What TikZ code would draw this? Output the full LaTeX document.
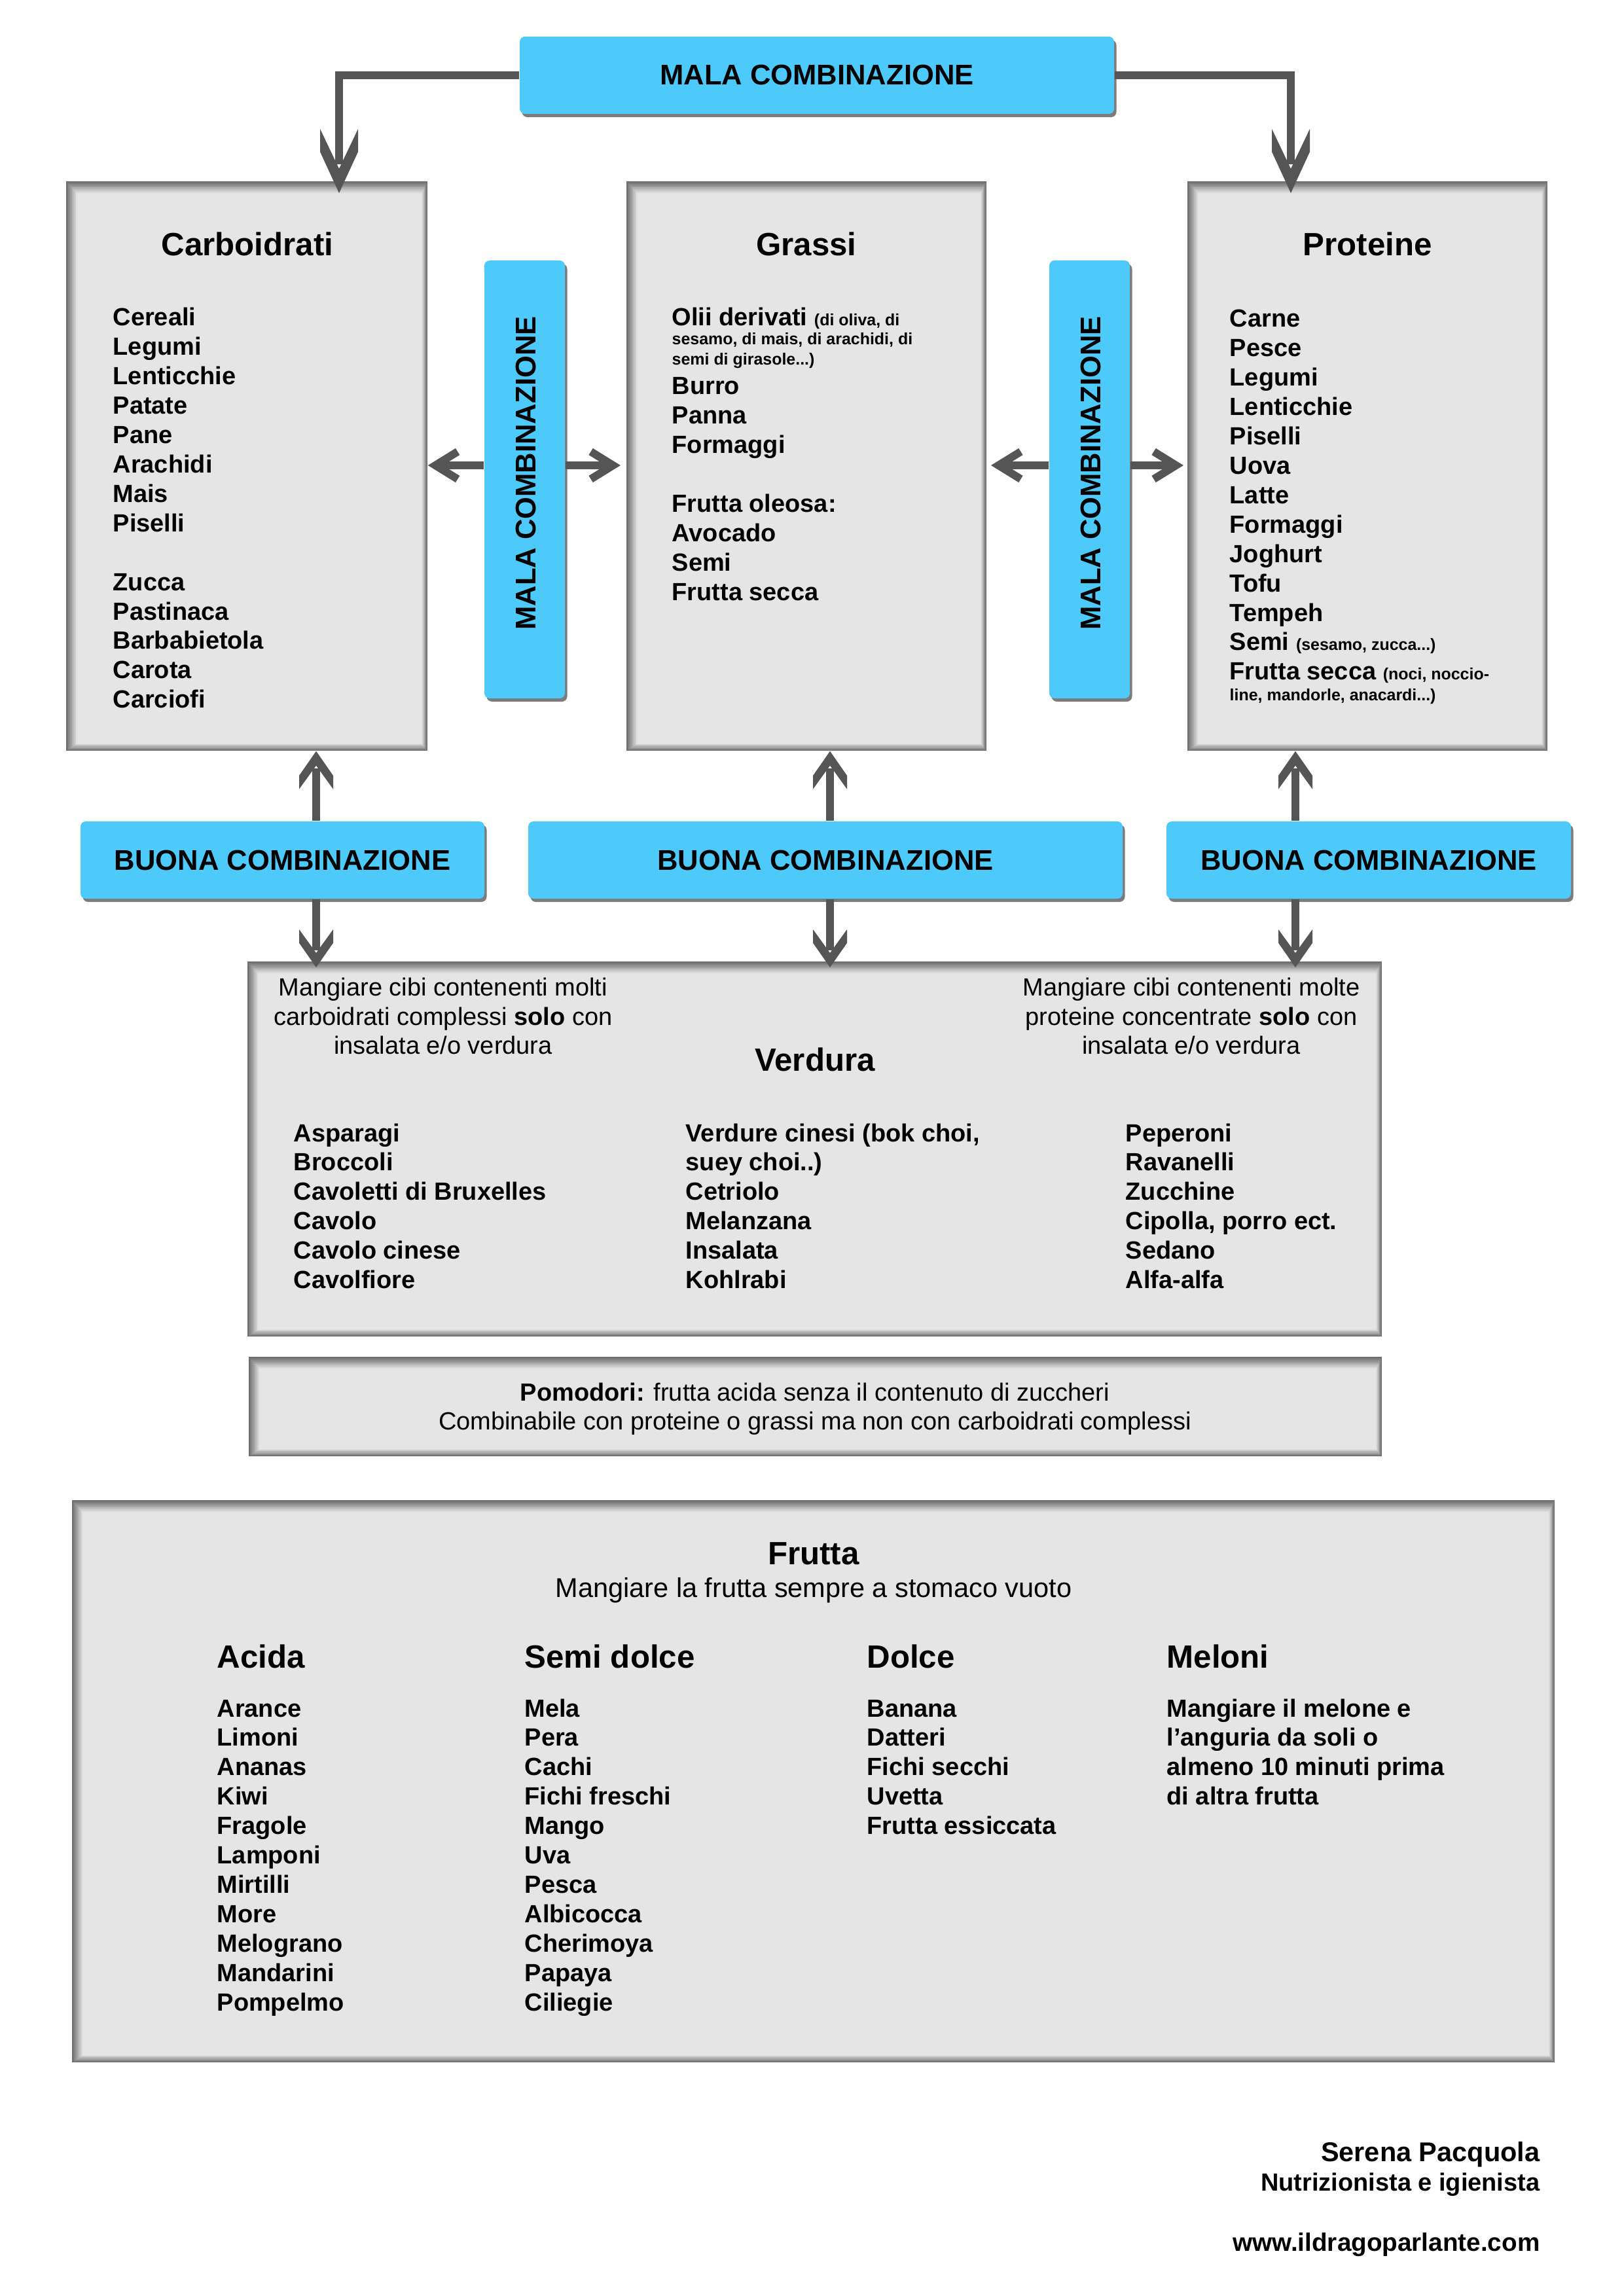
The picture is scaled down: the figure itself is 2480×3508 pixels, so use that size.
\documentclass[tikz,border=0pt]{standalone}
\usepackage{fontspec}
\setmainfont{Liberation Sans}
\usetikzlibrary{arrows.meta,calc,shadows}
\definecolor{bluebox}{RGB}{77,201,250}
\definecolor{boxgrey}{RGB}{229,229,229}
\definecolor{arrgrey}{RGB}{85,85,85}
\newcommand{\fb}{\fontsize{10.8pt}{12.8pt}\selectfont}
\newcommand{\fsm}{\fontsize{7.1pt}{8.5pt}\selectfont}
\newcommand{\fttl}{\fontsize{14pt}{16pt}\selectfont}
\newcommand{\fsub}{\fontsize{11.8pt}{14pt}\selectfont}
\newcommand{\fbtn}{\fontsize{12.4pt}{14pt}\selectfont}
\newcommand{\itemlist}[5]{\foreach \itm [count=\nn from 0] in {#5} {\node[#4] (#1-\nn) at (#2,#3+\nn*44.9) {\itm};}}
\pgfdeclarearrow{
  name = Prong,
  defaults = { length = 9.8mm, width = 5.8mm },
  setup code = {
    \pgfarrowssettipend{0pt}
    \pgfarrowssetbackend{-\pgfarrowlength}
    \pgfarrowssetlineend{-0.45\pgfarrowlength}
    \pgfarrowshullpoint{0pt}{0pt}
    \pgfarrowshullpoint{-\pgfarrowlength}{0.5\pgfarrowwidth}
    \pgfarrowshullpoint{-\pgfarrowlength}{-0.5\pgfarrowwidth}
    \pgfarrowssavethe\pgfarrowlength
    \pgfarrowssavethe\pgfarrowwidth
  },
  drawing code = {
    \pgfpathmoveto{\pgfqpoint{0pt}{0pt}}
    \pgfpathlineto{\pgfqpoint{-0.643\pgfarrowlength}{0.5\pgfarrowwidth}}
    \pgfpathlineto{\pgfqpoint{-\pgfarrowlength}{0.5\pgfarrowwidth}}
    \pgfpathlineto{\pgfqpoint{-0.38\pgfarrowlength}{0pt}}
    \pgfpathlineto{\pgfqpoint{-\pgfarrowlength}{-0.5\pgfarrowwidth}}
    \pgfpathlineto{\pgfqpoint{-0.643\pgfarrowlength}{-0.5\pgfarrowwidth}}
    \pgfpathclose
    \pgfusepathqfill
  },
  parameters = { \the\pgfarrowlength,\the\pgfarrowwidth },
}
\begin{document}
\begin{tikzpicture}[x=0.1mm,y=-0.1mm,
  greybox/.style={rectangle, fill=boxgrey, inner sep=0pt, path picture={
    \foreach \k in {0,...,9}{
      \pgfmathtruncatemacro{\shd}{57-5*\k}
      \fill[black!\shd]
        ([xshift=\k*0.17mm, yshift=-\k*0.19mm]path picture bounding box.north west)
        rectangle
        ([xshift=-\k*0.09mm, yshift=\k*0.11mm]path picture bounding box.south east);
    }
    \fill[boxgrey]
      ([xshift=1.7mm, yshift=-1.9mm]path picture bounding box.north west)
      rectangle
      ([xshift=-0.9mm, yshift=1.1mm]path picture bounding box.south east);
    }},
  bluebtn/.style={rectangle, fill=bluebox, rounded corners=0.8mm, inner sep=0pt,
    drop shadow={shadow xshift=0.35mm, shadow yshift=-0.5mm, fill=black!60, opacity=0.85},
    font=\bfseries\fbtn},
  lst/.style={anchor=base west, inner sep=0pt, font=\bfseries\fb},
  nt/.style={anchor=base, inner sep=0pt, font=\fb},
  ttl/.style={anchor=base, inner sep=0pt, font=\bfseries\fttl},
  hdr/.style={anchor=base west, inner sep=0pt, font=\bfseries\fttl},
  arrlong/.style={draw=arrgrey, line width=1.2mm, -{Prong[length=9.8mm, width=5.8mm]}},
  arrshort/.style={draw=arrgrey, line width=1.2mm, -{Prong[length=5.8mm, width=5.2mm]}},
  chev/.style={draw=arrgrey, line width=1.2mm, -{Straight Barb[length=3.4mm, width=4.2mm]}}
]
\fill[white] (0,0) rectangle (2480,3508);
\useasboundingbox (0,0) rectangle (2480,3508);

% main boxes
\node[greybox, minimum width=55.2mm, minimum height=87mm] (carb) at (377,712) {};
\node[greybox, minimum width=55.0mm, minimum height=87mm] (grassi) at (1232,712) {};
\node[greybox, minimum width=55.0mm, minimum height=87mm] (prot) at (2089,712) {};

% blue buttons
\node[bluebtn, minimum width=90.8mm, minimum height=11.8mm] (mtop) at (1248,115) {MALA COMBINAZIONE};
\node[bluebtn, minimum width=12.3mm, minimum height=66.9mm] (mleft) at (801.5,732.5) {};
\node[bluebtn, minimum width=12.3mm, minimum height=66.9mm] (mright) at (1664.5,732.5) {};
\node[rotate=90, font=\bfseries\fbtn, inner sep=0pt] (mlefttxt) at (803,723) {MALA COMBINAZIONE};
\node[rotate=90, font=\bfseries\fbtn, inner sep=0pt] (mrighttxt) at (1666,723) {MALA COMBINAZIONE};
\node[bluebtn, minimum width=61.7mm, minimum height=11.8mm] (bl) at (431.5,1314) {BUONA COMBINAZIONE};
\node[bluebtn, minimum width=90.8mm, minimum height=11.8mm] (bm) at (1261,1314) {BUONA COMBINAZIONE};
\node[bluebtn, minimum width=61.8mm, minimum height=11.8mm] (br) at (2091,1314) {BUONA COMBINAZIONE};

% lower boxes
\node[greybox, minimum width=173.3mm, minimum height=57.3mm] (verd) at (1244.5,1755.5) {};
\node[greybox, minimum width=173.1mm, minimum height=15.2mm] (pom) at (1245.5,2149) {};
\node[greybox, minimum width=226.5mm, minimum height=85.9mm] (frut) at (1242.5,2721.5) {};

% titles
\node[ttl] (tcarb) at (378,391) {Carboidrati};
\node[ttl] (tgrassi) at (1232,391) {Grassi};
\node[ttl] (tprot) at (2089,391) {Proteine};

% Carboidrati list
\itemlist{lc}{172}{498}{lst}{Cereali,Legumi,Lenticchie,Patate,Pane,Arachidi,Mais,Piselli,{},Zucca,Pastinaca,Barbabietola,Carota,Carciofi}

% Grassi list
\node[lst] (g0) at (1026,498) {Olii derivati {\fsm (di oliva, di}};
\node[lst, font=\bfseries\fsm] (g1) at (1026,527) {sesamo, di mais, di arachidi, di};
\node[lst, font=\bfseries\fsm] (g2) at (1026,558) {semi di girasole...)};
\itemlist{lg}{1026}{603}{lst}{Burro,Panna,Formaggi,{},Frutta oleosa:,Avocado,Semi,Frutta secca}

% Proteine list
\itemlist{lp}{1878}{500}{lst}{Carne,Pesce,Legumi,Lenticchie,Piselli,Uova,Latte,Formaggi,Joghurt,Tofu,Tempeh,{Semi {\fsm (sesamo, zucca...)}},{Frutta secca {\fsm (noci, noccio-}}}
\node[lst, font=\bfseries\fsm] (lp13) at (1878,1070) {line, mandorle, anacardi...)};

% connectors top
\coordinate (tipL) at (518,295);
\coordinate (tipR) at (1972,295);
\draw[arrlong] (mtop.west) -| (tipL);
\draw[arrlong] (mtop.east) -| (tipR);

% chevrons
\coordinate (hy) at (0,711);
\coordinate (c2) at (948,711);
\coordinate (c3) at (1514,711);
\coordinate (c4) at (1808,711);
\draw[chev] (mleft.west |- hy) -- (carb.east |- hy);
\draw[chev] (mleft.east |- hy) -- (c2);
\draw[chev] (mright.west |- hy) -- (c3);
\draw[chev] (mright.east |- hy) -- (c4);

% up / down arrows
\coordinate (ax1) at (483,0);
\coordinate (ax2) at (1268,0);
\coordinate (ax3) at (1979,0);
\coordinate (d1) at (483,1478);
\coordinate (d2) at (1268,1478);
\coordinate (d3) at (1979,1478);
\draw[arrshort] (ax1 |- bl.north) -- (ax1 |- carb.south);
\draw[arrshort] (ax2 |- bm.north) -- (ax2 |- grassi.south);
\draw[arrshort] (ax3 |- br.north) -- (ax3 |- prot.south);
\draw[arrshort] (ax1 |- bl.south) -- (d1);
\draw[arrshort] (ax2 |- bm.south) -- (d2);
\draw[arrshort] (ax3 |- br.south) -- (d3);

% Verdura
\node[nt] (vn1) at (677,1521) {Mangiare cibi contenenti molti};
\node[nt] (vn2) at (677,1566) {carboidrati complessi \textbf{solo} con};
\node[nt] (vn3) at (677,1610) {insalata e/o verdura};
\node[nt] (vr1) at (1820,1521) {Mangiare cibi contenenti molte};
\node[nt] (vr2) at (1820,1566) {proteine concentrate \textbf{solo} con};
\node[nt] (vr3) at (1820,1610) {insalata e/o verdura};
\node[ttl] (tverd) at (1245,1636) {Verdura};
\itemlist{v1}{448}{1744}{lst}{Asparagi,Broccoli,Cavoletti di Bruxelles,Cavolo,Cavolo cinese,Cavolfiore}
\itemlist{v2}{1047}{1744}{lst}{{Verdure cinesi (bok choi,},{suey choi..)},Cetriolo,Melanzana,Insalata,Kohlrabi}
\itemlist{v3}{1719}{1744}{lst}{Peperoni,Ravanelli,Zucchine,{Cipolla, porro ect.},Sedano,Alfa-alfa}

% Pomodori
\node[nt] (p1) at (1245,2140) {\textbf{Pomodori:} frutta acida senza il contenuto di zuccheri};
\node[nt] (p2) at (1245,2184) {Combinabile con proteine o grassi ma non con carboidrati complessi};

% Frutta
\node[ttl] (tfrut) at (1243,2390) {Frutta};
\node[nt, font=\fsub] (fsub) at (1243,2440) {Mangiare la frutta sempre a stomaco vuoto};
\node[hdr] (h1) at (331,2548) {Acida};
\node[hdr] (h2) at (801,2548) {Semi dolce};
\node[hdr] (h3) at (1324,2548) {Dolce};
\node[hdr] (h4) at (1782,2548) {Meloni};
\itemlist{f1}{331}{2623}{lst}{Arance,Limoni,Ananas,Kiwi,Fragole,Lamponi,Mirtilli,More,Melograno,Mandarini,Pompelmo}
\itemlist{f2}{801}{2623}{lst}{Mela,Pera,Cachi,Fichi freschi,Mango,Uva,Pesca,Albicocca,Cherimoya,Papaya,Ciliegie}
\itemlist{f3}{1324}{2623}{lst}{Banana,Datteri,Fichi secchi,Uvetta,Frutta essiccata}
\itemlist{f4}{1782}{2623}{lst}{Mangiare il melone e,l’anguria da soli o,almeno 10 minuti prima,di altra frutta}

% footer
\node[anchor=base east, inner sep=0pt, font=\bfseries\fsub] (auth) at (2353,3302) {Serena Pacquola};
\node[anchor=base east, inner sep=0pt, font=\bfseries\fb] (role) at (2353,3347) {Nutrizionista e igienista};
\node[anchor=base east, inner sep=0pt, font=\bfseries\fontsize{11pt}{13pt}\selectfont] (web) at (2353,3439) {www.ildragoparlante.com};
\end{tikzpicture}
\end{document}
